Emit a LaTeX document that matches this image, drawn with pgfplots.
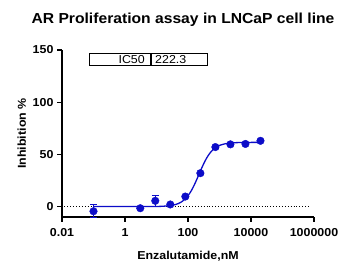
\documentclass[border=0pt]{standalone}
\usepackage{pgfplots}
\pgfplotsset{compat=1.18}
\usepackage{pgfplotstable}
\usepackage{fontspec}
\setmainfont{Liberation Sans}[FakeStretch=1.08]
\definecolor{gpblue}{RGB}{12,12,200}
\pgfplotstableread{
x y e
0.1 -4.5 6
3.05 -1.6 0.5
9.14 5.5 5.5
27.4 2.0 0.8
82.3 9.6 0.8
247 32 1
741 57 1
2222 59.6 1
6667 60 1
20000 63 1
}\datatab
\pgfplotstableread{
x y
0.1 0.00
1 0.00
10 0.12
15.85 0.31
25.12 0.78
31.62 1.22
39.81 1.91
50.12 2.97
63.10 4.58
79.43 6.96
100 10.35
125.9 14.93
158.5 20.72
199.5 27.43
251.2 34.49
316.2 41.16
398.1 46.88
501.2 51.39
631.0 54.70
794.3 57.03
1000 58.60
1585 60.31
2512 61.02
3981 61.31
6310 61.42
10000 61.47
20000 61.49
}\fittab
\begin{document}
\begin{tikzpicture}
\path[use as bounding box] (0pt,0pt) rectangle (357pt,-275pt);
\node[font=\bfseries\fontsize{14.5}{16}\selectfont] at (183pt,-20pt) {AR Proliferation assay in LNCaP cell line};
\begin{axis}[
  at={(62pt,-217pt)}, anchor=south west,
  scale only axis, width=252pt, height=167pt,
  xmode=log, xmin=0.01, xmax=1000000,
  ymin=-10, ymax=150,
  axis lines=left,
  axis line style={-, line width=1.3pt},
  xtick={0.01,1,100,10000,1000000},
  xticklabels={0.01,1,100,10000,1000000},
  ytick={0,50,100,150},
  minor xtick={}, minor ytick={},
  tick style={line width=1.3pt, black},
  major tick length=5pt,
  tick align=outside,
  /pgf/number format/assume math mode=true,
  ticklabel style={font=\bfseries\fontsize{11.5}{13}\selectfont},
  xticklabel style={yshift=-3pt},
  xlabel={Enzalutamide,nM},
  ylabel={Inhibition \%},
  label style={font=\bfseries\fontsize{11.5}{13}\selectfont},
  xlabel style={yshift=-8pt},
  ylabel style={yshift=0pt},
  clip=false,
]
\addplot[black, dotted, line width=0.9pt, forget plot] coordinates {(0.012,0) (800000,0)};
\addplot[gpblue, line width=1.3pt, smooth, no marks] table[x=x,y=y] {\fittab};
\addplot[gpblue, only marks, mark=*, mark size=3.8pt,
  error bars/.cd, y dir=both, y explicit, error bar style={line width=1pt, gpblue}, error mark options={rotate=90, mark size=3.5pt, line width=1pt, gpblue}]
  table[x=x,y=y,y error=e] {\datatab};
\end{axis}
\draw[line width=0.9pt] (89pt,-53.5pt) rectangle (207pt,-65pt);
\draw[line width=1.8pt] (151pt,-53.5pt) -- (151pt,-65pt);
\node[anchor=east, font=\fontsize{11.5}{13}\selectfont, inner sep=0pt] at (145pt,-59.3pt) {IC50};
\node[anchor=west, font=\fontsize{11.5}{13}\selectfont, inner sep=0pt] at (155pt,-59.3pt) {222.3};
\end{tikzpicture}
\end{document}
